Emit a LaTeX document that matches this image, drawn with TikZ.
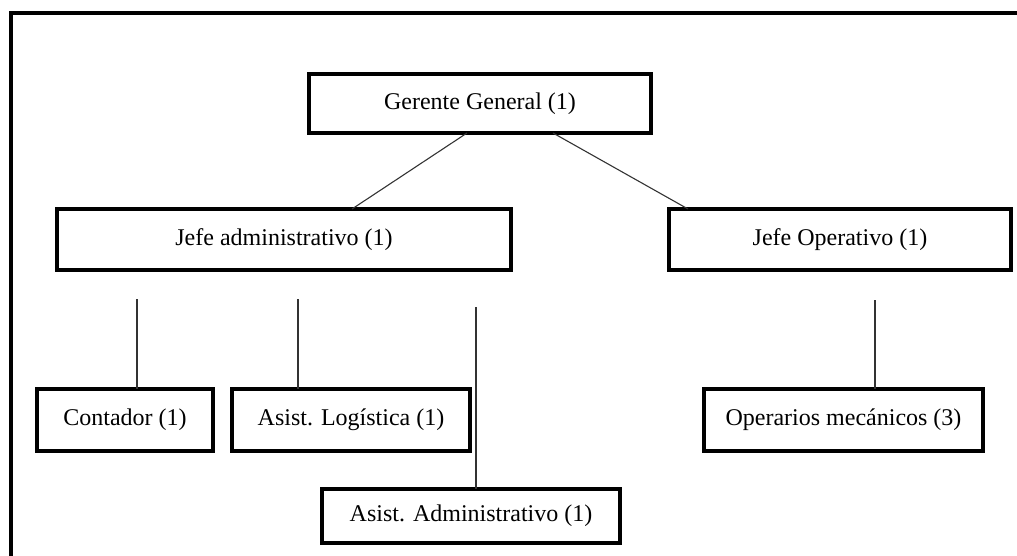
\documentclass[tikz,border=0pt]{standalone}
\usepackage{fontspec}
\setmainfont{Liberation Serif}
\usetikzlibrary{calc}
\begin{document}
\begin{tikzpicture}[x=1pt,y=-1pt,
  orgbox/.style={draw=black,line width=4pt,fill=white,inner sep=0pt,outer sep=0pt,
    font=\fontsize{24}{28}\selectfont},
  link/.style={draw=black!80,line width=1.1pt}]
\useasboundingbox (0,0) rectangle (1017,556);
% frame
\draw[line width=4pt,miter limit=10] (10.5,560) -- (10.5,13.5) -- (1020,13.5);
% boxes
\node[orgbox,minimum width=342pt,minimum height=59pt] (g) at (480,103.5) {Gerente General (1)};
\node[orgbox,minimum width=454pt,minimum height=61pt] (ja) at (284,239.5) {Jefe administrativo (1)};
\node[orgbox,minimum width=342pt,minimum height=61pt] (jo) at (840,239.5) {Jefe Operativo (1)};
\node[orgbox,minimum width=176pt,minimum height=62pt] (c) at (125,420) {Contador (1)};
\node[orgbox,minimum width=238pt,minimum height=62pt] (l) at (351,420) {Asist. Logística (1)};
\node[orgbox,minimum width=279pt,minimum height=62pt] (o) at (843.5,420) {Operarios mecánicos (3)};
\node[orgbox,minimum width=298pt,minimum height=54pt] (a) at (471,516) {Asist. Administrativo (1)};
% connectors
\draw[link] ($(g.south)+(-13,0)$) -- ($(ja.north)+(68,0)$);
\draw[link] ($(g.south)+(73,0)$) -- ($(jo.north)+(-152,0)$);
\coordinate (c1) at (137,299);
\coordinate (c2) at (298,299);
\coordinate (c3) at (476,307);
\coordinate (c4) at (875,300);
\draw[link] (c1) -- (c1 |- c.north);
\draw[link] (c2) -- (c2 |- l.north);
\draw[link] (c3) -- (c3 |- a.north);
\draw[link] (c4) -- (c4 |- o.north);
\end{tikzpicture}
\end{document}
